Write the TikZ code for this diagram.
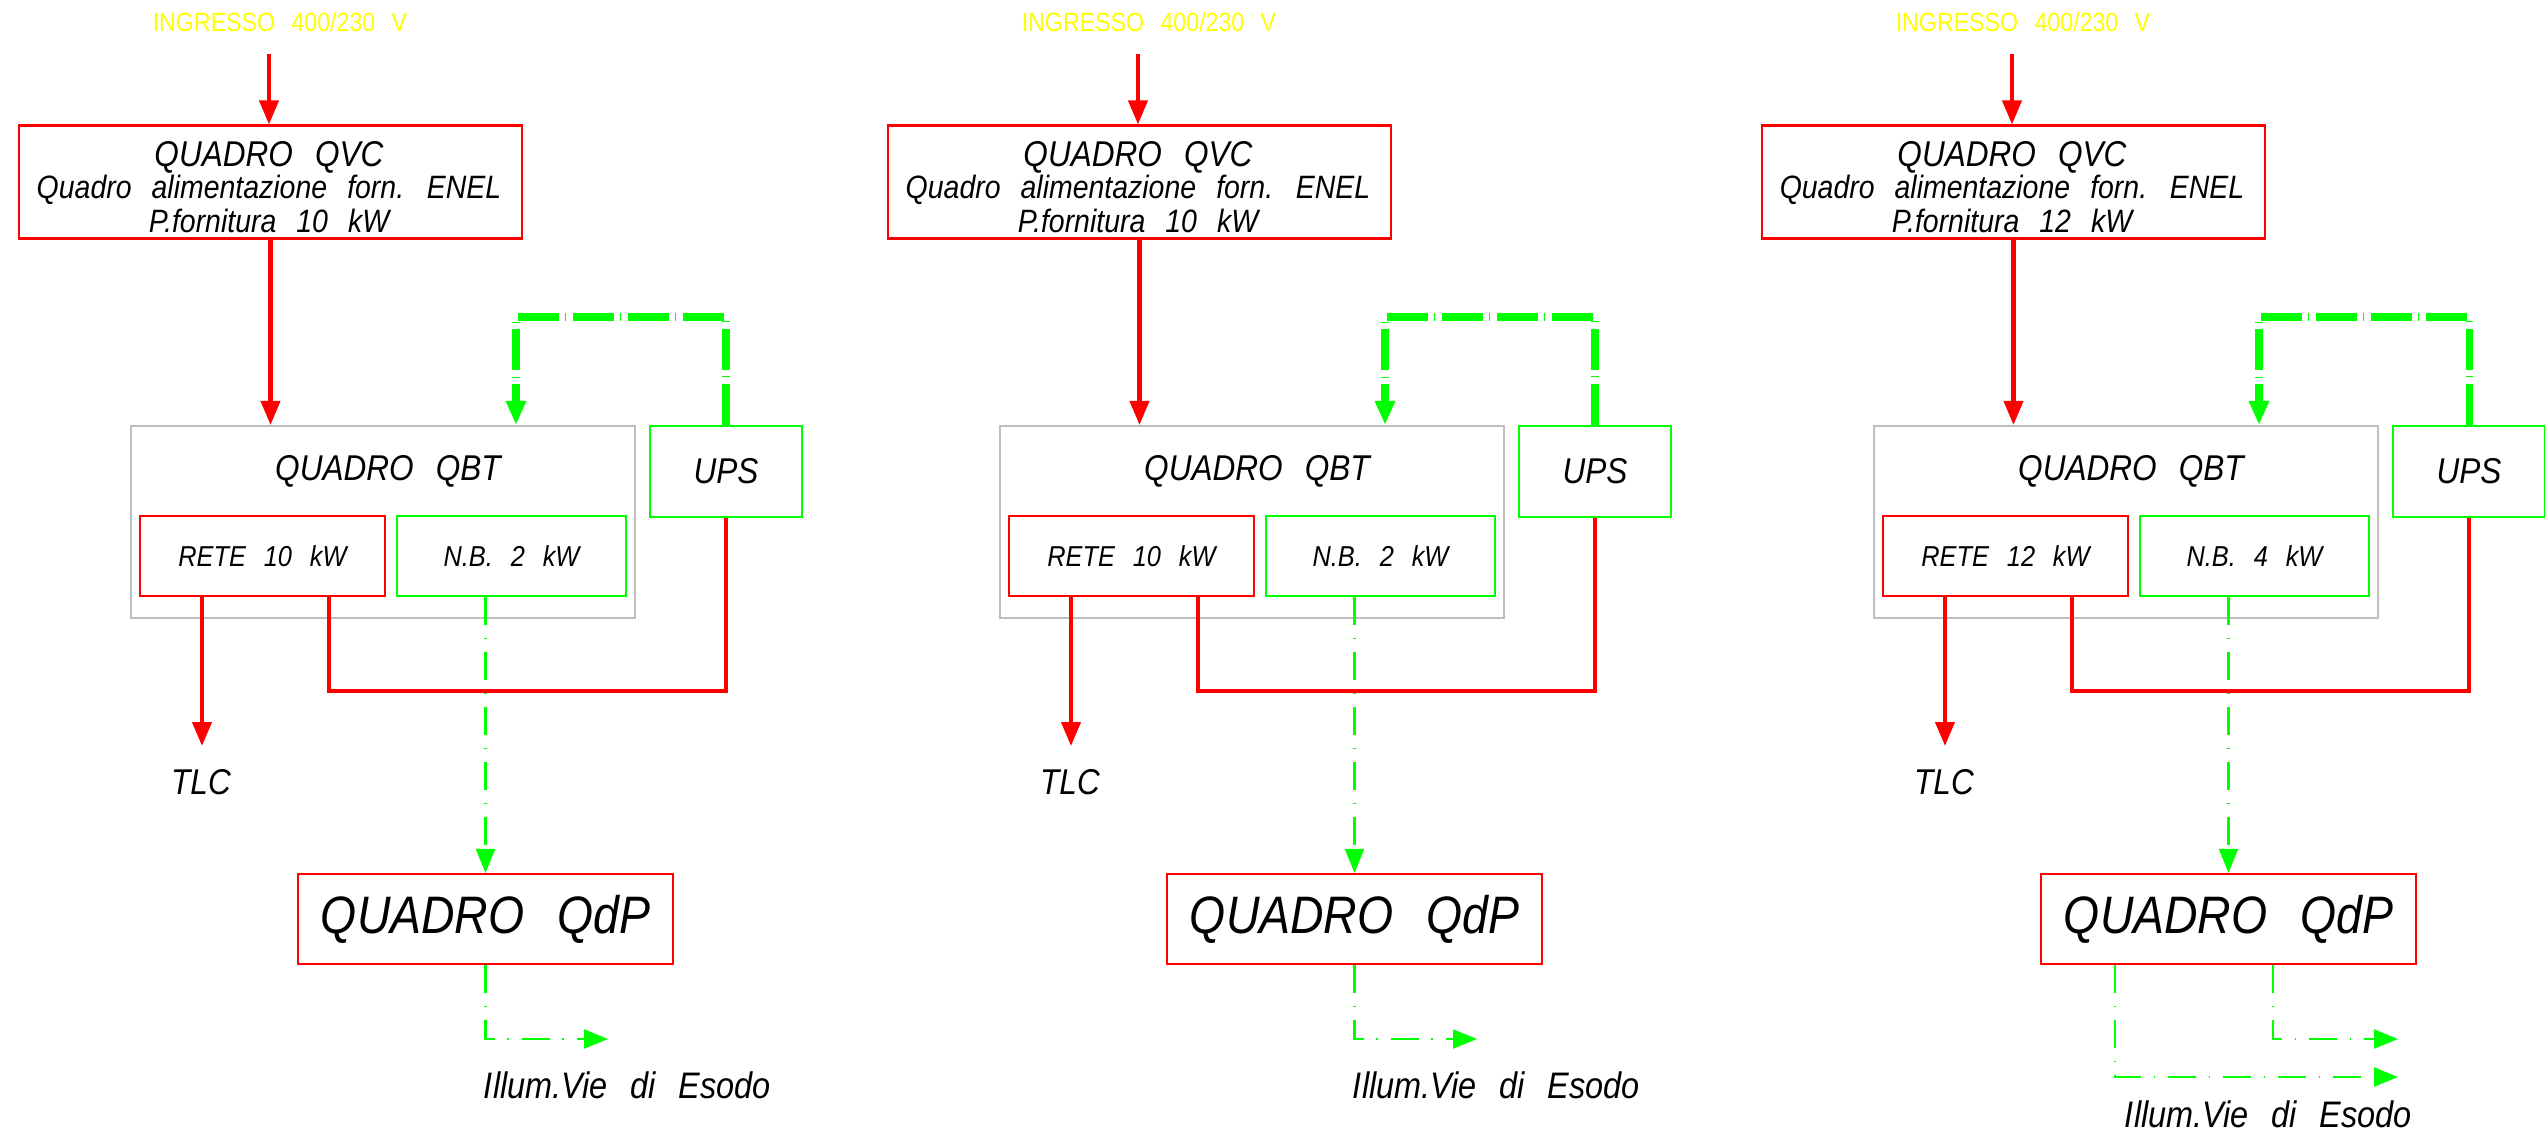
\documentclass[tikz,border=0pt]{standalone}
\usepackage{fontspec}
\setmainfont{Liberation Sans}[FakeStretch=0.88]
\usetikzlibrary{arrows.meta,positioning}

\definecolor{cadRed}{RGB}{255,0,0}
\definecolor{cadGreen}{RGB}{0,255,0}
\definecolor{cadGray}{RGB}{190,190,190}
\definecolor{cadYellow}{RGB}{255,255,0}

\newcommand{\cadTitle}{\fontsize{10.2}{11}\selectfont\itshape\spaceskip=0.62em\relax}
\newcommand{\cadText}{\fontsize{8.2}{9.2}\selectfont\itshape\spaceskip=0.62em\relax}
\newcommand{\cadSub}{\fontsize{9.2}{9.6}\selectfont\itshape\spaceskip=0.62em\relax}
\newcommand{\cadNote}{\fontsize{10.5}{12}\selectfont\itshape\spaceskip=0.62em\relax}
\newcommand{\cadHuge}{\fontsize{15}{17}\selectfont\itshape\spaceskip=0.62em\relax}
\newcommand{\cadPlain}{\fontsize{7.5}{9}\selectfont\spaceskip=0.62em\relax}

\begin{document}
\begin{tikzpicture}[x=0.1mm, y=-0.1mm, >={Triangle[length=2.4mm, width=1.9mm]}]
  \tikzstyle{quadro} = [draw=cadRed, line width=0.6pt, rectangle, inner sep=0pt, align=center, font=\cadText]
  \tikzstyle{quadroGray} = [quadro, draw=cadGray]
  \tikzstyle{quadroGreen} = [quadro, draw=cadGreen]
  \tikzstyle{cadLabel} = [inner sep=0pt, font=\cadText]
  \tikzstyle{feedRed} = [draw=cadRed, line width=1.15pt, ->];
  \tikzstyle{busRed} = [draw=cadRed, line width=1.4pt];
  \tikzstyle{busGreen} = [draw=cadGreen, line width=2pt, dash pattern=on 4.1mm off 0.65mm on 0.1mm off 0.65mm, ->];
  \tikzstyle{feedGreen} = [draw=cadGreen, line width=0.6pt, dash pattern=on 2.8mm off 1.25mm on 0.15mm off 1.3mm, ->];

  \useasboundingbox (0,0) rectangle (2545,1130);

  \foreach \dx/\pf/\rete/\nb [count=\i] in {0/10/10/2, 869/10/10/2, 1743/12/12/4} {
    \begin{scope}[shift={(\dx,0)}]
      \node[cadLabel, font=\cadPlain, text=cadYellow] (in\i) at (280,22) {INGRESSO 400/230 V};
      \coordinate (src\i) at (269,54);
      \node[quadro, minimum width=50.3mm, minimum height=11.3mm, font=\cadSub] (qvc\i) at (270.5,182) {};
      \node[cadLabel, font=\cadSub, align=center] (qvcText\i) at (269,187)
        {{\cadTitle QUADRO QVC}\\[-0.6pt] Quadro alimentazione forn. ENEL\\ P.fornitura \pf\ kW};

      \node[quadroGray, minimum width=50.4mm, minimum height=19.2mm] (qbt\i) at (383,522) {};
      \node[cadLabel, font=\cadTitle] (qbtName\i) at (388,471) {QUADRO QBT};
      \node[quadro, minimum width=24.5mm, minimum height=8mm] (rete\i) at (262.5,556) {RETE \rete\ kW};
      \node[quadroGreen, minimum width=22.9mm, minimum height=8mm] (nb\i) at (511.5,556) {N.B. \nb\ kW};
      \node[quadroGreen, minimum width=15.2mm, minimum height=9.1mm, font=\cadTitle] (ups\i) at (726,471.5) {UPS};

      \node[cadLabel, font=\cadTitle] (tlc\i) at (201,782) {TLC};
      \coordinate (tlcEnd\i) at (202,746);
      \coordinate (bus\i) at (329,691);
      \coordinate (upsLoop\i) at (516,317);

      \node[quadro, minimum width=37.5mm, minimum height=9mm, font=\cadHuge] (qdp\i) at (485.5,919) {QUADRO QdP};
    \end{scope}

    % linee di alimentazione
    \draw[feedRed] (src\i) -- (src\i |- qvc\i.north);
    \draw[feedRed] (qvc\i.south) -- (qvc\i.south |- qbt\i.north);
    \draw[feedRed] (tlcEnd\i |- rete\i.south) -- (tlcEnd\i);
    \draw[busGreen] (ups\i.north) |- (upsLoop\i) -- (upsLoop\i |- qbt\i.north);
    \draw[feedGreen] (qdp\i.north |- nb\i.south) -- (qdp\i.north);
    \draw[busRed] (bus\i |- rete\i.south) -- (bus\i) -| (ups\i.south);
  }

  % uscite vie di esodo
  \coordinate (exit1) at (608,1039);
  \coordinate (exit2) at (1477,1039);
  \coordinate (exit3a) at (2398,1039);
  \coordinate (exit3b) at (2398,1077);
  \draw[feedGreen] (qdp1.south) |- (exit1);
  \draw[feedGreen] (qdp2.south) |- (exit2);
  \draw[feedGreen] ([xshift=4.45mm]qdp3.south) |- (exit3a);
  \draw[feedGreen] ([xshift=-11.35mm]qdp3.south) |- (exit3b);

  \node[cadLabel, font=\cadNote] (esodo1) at (627.5,1085) {Illum.Vie di Esodo};
  \node[cadLabel, font=\cadNote] (esodo2) at (1496.5,1085) {Illum.Vie di Esodo};
  \node[cadLabel, font=\cadNote] (esodo3) at (2268.5,1114) {Illum.Vie di Esodo};
\end{tikzpicture}
\end{document}
